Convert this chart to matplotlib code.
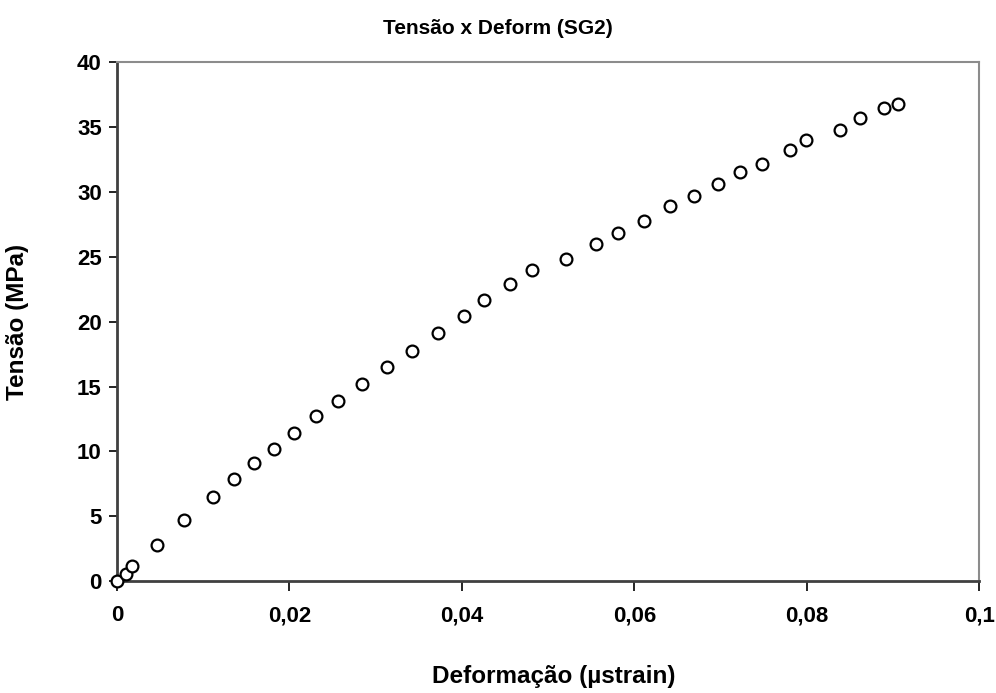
import matplotlib
matplotlib.use("Agg")
import matplotlib.pyplot as plt

# Strain gauge SG2: strain vs. stress readings
deformacao = [0.0000, 0.00104, 0.00174, 0.00461, 0.00781, 0.01110, 0.01357,
              0.01589, 0.01821, 0.02057, 0.02312, 0.02567, 0.02839, 0.03129,
              0.03426, 0.03727, 0.04029, 0.04261, 0.04563, 0.04818, 0.05212,
              0.05560, 0.05816, 0.06117, 0.06419, 0.06697, 0.06976, 0.07227,
              0.07486, 0.07811, 0.07997, 0.08391, 0.08619, 0.08901, 0.09064]
tensao = [0.05, 0.55, 1.17, 2.83, 4.71, 6.52, 7.91, 9.14, 10.22, 11.45,
          12.71, 13.88, 15.17, 16.52, 17.73, 19.14, 20.40, 21.63, 22.86,
          23.94, 24.83, 25.94, 26.83, 27.75, 28.86, 29.65, 30.55, 31.48,
          32.09, 33.17, 33.94, 34.71, 35.63, 36.40, 36.73]

x_ticks = [0, 0.02, 0.04, 0.06, 0.08, 0.1]
x_tick_labels = ["0", "0,02", "0,04", "0,06", "0,08", "0,1"]
y_ticks = [0, 5, 10, 15, 20, 25, 30, 35, 40]

plt.rcParams["font.family"] = ["Liberation Sans", "DejaVu Sans"]
plt.rcParams["font.weight"] = "bold"

W, H = 996, 693
fig = plt.figure(figsize=(W / 100, H / 100), dpi=100)
ax = fig.add_axes([0.1175, 0.161, 0.8655, 0.750])

ax.plot(deformacao, tensao, linestyle="none", marker="o", markersize=8.5,
        markerfacecolor="white", markeredgecolor="black", markeredgewidth=1.6,
        clip_on=False, zorder=3)

ax.set_xlim(0, 0.1)
ax.set_ylim(0, 40)
ax.set_xticks(x_ticks)
ax.set_xticklabels(x_tick_labels)
ax.set_yticks(y_ticks)

for side in ("left", "bottom"):
    ax.spines[side].set_color("#404040")
    ax.spines[side].set_linewidth(2.0)
for side in ("top", "right"):
    ax.spines[side].set_color("#8c8c8c")
    ax.spines[side].set_linewidth(1.5)

ax.tick_params(axis="both", which="major", labelsize=16, colors="black",
               width=1.2, direction="out")
ax.tick_params(axis="x", length=7, pad=10)
ax.tick_params(axis="y", length=6, pad=5)
for lbl in ax.get_xticklabels() + ax.get_yticklabels():
    lbl.set_fontweight("bold")

fig.text(0.5, 1 - 28 / H, "Tensão x Deform (SG2)", fontsize=15,
         fontweight="bold", ha="center", va="center")
fig.text(554 / W, 1 - 677 / H, "Deformação (µstrain)", fontsize=17.5,
         fontweight="bold", ha="center", va="center")
fig.text(18 / W, 1 - 322 / H, "Tensão (MPa)", fontsize=17.5,
         fontweight="bold", ha="center", va="center", rotation=90)

fig.savefig("out.png", dpi=100, facecolor="white")
